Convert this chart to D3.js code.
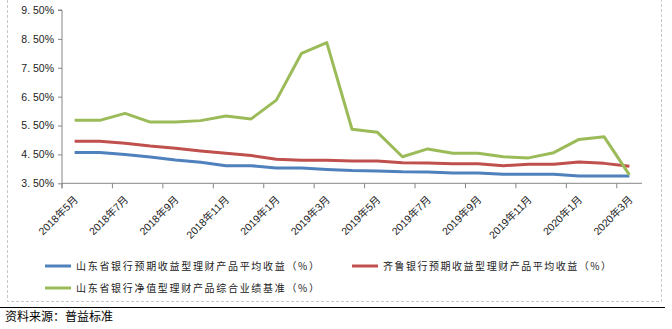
<!DOCTYPE html>
<html>
<head>
<meta charset="utf-8">
<script src="https://cdn.jsdelivr.net/npm/d3@7"></script>
<style>
  html, body { margin: 0; padding: 0; background: #fff; }
  svg { display: block; }
</style>
</head>
<body>
<svg id="chart" width="672" height="329"></svg>
<script>
// Monthly categories, May 2018 – Mar 2020
const months = [
  "2018年5月","2018年6月","2018年7月","2018年8月","2018年9月","2018年10月",
  "2018年11月","2018年12月","2019年1月","2019年2月","2019年3月","2019年4月",
  "2019年5月","2019年6月","2019年7月","2019年8月","2019年9月","2019年10月",
  "2019年11月","2019年12月","2020年1月","2020年2月","2020年3月"
];

// 山东省银行预期收益型理财产品平均收益（%）
const shandongExpected = [4.57,4.57,4.50,4.41,4.31,4.23,4.11,4.11,4.03,4.03,3.98,3.94,
  3.93,3.90,3.89,3.86,3.86,3.81,3.81,3.81,3.75,3.75,3.75];
// 齐鲁银行预期收益型理财产品平均收益（%）
const qiluExpected = [4.96,4.96,4.89,4.79,4.71,4.62,4.54,4.46,4.33,4.30,4.30,4.27,
  4.27,4.21,4.20,4.18,4.18,4.11,4.16,4.16,4.24,4.19,4.09];
// 山东省银行净值型理财产品综合业绩基准（%）
const shandongNetValue = [5.68,5.68,5.92,5.62,5.62,5.67,5.83,5.73,6.38,8.00,8.37,5.37,
  5.27,4.42,4.69,4.54,4.54,4.42,4.38,4.56,5.02,5.11,3.79];

const yTicks = [3.5,4.5,5.5,6.5,7.5,8.5,9.5];
const seriesNames = [
  "山东省银行预期收益型理财产品平均收益（%）",
  "齐鲁银行预期收益型理财产品平均收益（%）",
  "山东省银行净值型理财产品综合业绩基准（%）"
];
const seriesColors = ["#4F81BD", "#C0504D", "#9BBB59"];
const sourceNote = "资料来源：普益标准";

const svg = d3.select("#chart");
const axisColor = "#868686";

// Outer frame (dashed)
svg.append("path")
  .attr("d", "M7.5,0 V301.5 H661.5 V0")
  .attr("fill", "none")
  .attr("stroke", "#c8c8c8")
  .attr("stroke-dasharray", "3,2");

const plot = { left: 62, right: 642, top: 10, bottom: 183.3 };

const x = d3.scaleBand().domain(months).range([plot.left, plot.right]).padding(0);
const y = d3.scaleLinear().domain([3.5, 9.5]).range([plot.bottom, plot.top]);
const cx = m => x(m) + x.bandwidth() / 2;

// Y axis
const yAxis = svg.append("g").attr("transform", `translate(${plot.left},0)`)
  .call(d3.axisLeft(y).tickValues(yTicks).tickSize(4).tickPadding(4)
    .tickFormat(d => d.toFixed(2).replace(".", ". ") + "%"));
yAxis.select(".domain").attr("stroke", axisColor).attr("d", `M-4,${plot.top}H0V${plot.bottom + 5}`);
yAxis.selectAll(".tick line").attr("stroke", axisColor);
yAxis.selectAll(".tick text")
  .attr("fill", "#222")
  .style("font-family", "'Liberation Sans', Arial, sans-serif")
  .style("font-size", "10.5px");

// X axis: tick marks on every second category boundary
const xg = svg.append("g");
xg.append("line")
  .attr("x1", plot.left).attr("x2", plot.right)
  .attr("y1", plot.bottom).attr("y2", plot.bottom)
  .attr("stroke", axisColor);
const tickMonths = months.filter((m, i) => i % 2 === 0);
xg.selectAll("line.tick").data(tickMonths).join("line")
  .attr("class", "tick")
  .attr("x1", d => x(d)).attr("x2", d => x(d))
  .attr("y1", plot.bottom).attr("y2", plot.bottom + 5)
  .attr("stroke", axisColor);
xg.selectAll("text").data(tickMonths).join("text")
  .attr("transform", d => `translate(${cx(d) + 4},${plot.bottom + 17}) rotate(-45)`)
  .attr("text-anchor", "end")
  .attr("fill", "#222")
  .style("font-family", "'Liberation Sans', 'Noto Sans CJK SC', sans-serif")
  .style("font-size", "10.5px")
  .text(d => d);

// Lines
const line = d3.line().x((d, i) => cx(months[i])).y(d => y(d));
[shandongExpected, qiluExpected, shandongNetValue].forEach((vals, k) => {
  svg.append("path")
    .datum(vals)
    .attr("fill", "none")
    .attr("stroke", seriesColors[k])
    .attr("stroke-width", 3)
    .attr("stroke-linejoin", "round")
    .attr("d", line);
});

// Legend
const legendItems = [
  { x: 45, y: 266, w: 243 },
  { x: 352, y: 266, w: 228 },
  { x: 45, y: 288, w: 243 }
];
legendItems.forEach((p, k) => {
  const g = svg.append("g");
  g.append("line")
    .attr("x1", p.x).attr("x2", p.x + 26)
    .attr("y1", p.y).attr("y2", p.y)
    .attr("stroke", seriesColors[k]).attr("stroke-width", 3);
  g.append("text")
    .attr("x", p.x + 31).attr("y", p.y + 4)
    .attr("fill", "#222")
    .attr("textLength", p.w)
    .attr("lengthAdjust", "spacing")
    .style("font-family", "'Noto Sans CJK SC', sans-serif")
    .style("font-size", "10px")
    .text(seriesNames[k]);
});

// Bottom rule and source note
svg.append("line")
  .attr("x1", 0).attr("x2", 665)
  .attr("y1", 307.5).attr("y2", 307.5)
  .attr("stroke", "#000").attr("stroke-width", 1.2);
svg.append("text")
  .attr("x", 5).attr("y", 321)
  .attr("fill", "#000")
  .style("font-family", "'Noto Sans CJK SC', sans-serif")
  .style("font-size", "12px")
  .text(sourceNote);
</script>
</body>
</html>
